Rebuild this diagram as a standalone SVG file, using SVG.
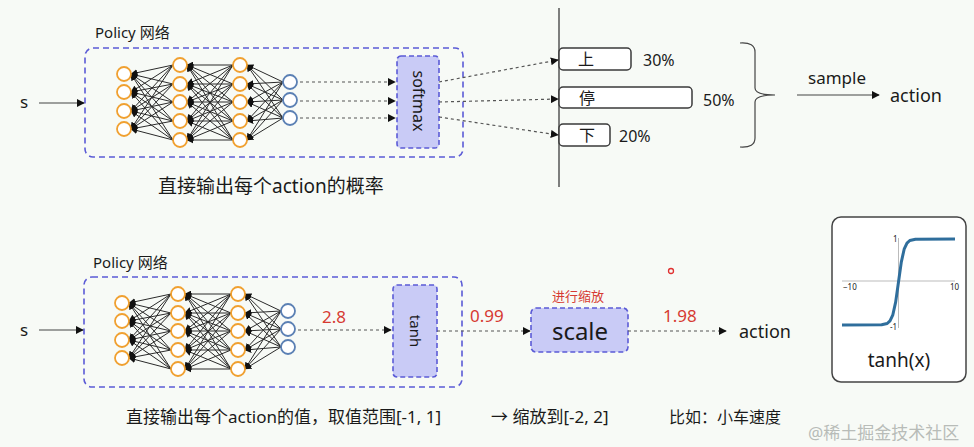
<svg xmlns="http://www.w3.org/2000/svg" xmlns:xlink="http://www.w3.org/1999/xlink" width="974" height="447" viewBox="0 0 974 447">
<style>
text{font-family:"Noto Sans","Noto Sans CJK SC",sans-serif;fill:#1a1a1a}
.frame{fill:none;stroke:#5b5bd6;stroke-width:1.6;stroke-dasharray:6,4}
.fbox{fill:#c9cbf6;stroke:#5b5bd6;stroke-width:1.6;stroke-dasharray:5,3}
.o{fill:#fff;stroke:#f0a030;stroke-width:1.8}
.b{fill:#fff;stroke:#5b80b4;stroke-width:1.8}
.w{stroke:#2a2a2a;stroke-width:1}
.dot{fill:none;stroke:#555;stroke-width:1.2;stroke-dasharray:3,3}
.sol{fill:none;stroke:#444;stroke-width:1.2}
.bar{fill:#fff;stroke:#3a3a3a;stroke-width:1.5}
.red{fill:#d63a32}
</style>
<defs>
<marker id="ah" viewBox="0 0 10 10" refX="9" refY="5" markerWidth="8" markerHeight="8" markerUnits="userSpaceOnUse" orient="auto"><path d="M0,0 L10,5 L0,10 z" fill="#111"/></marker>
<marker id="ahs" viewBox="0 0 10 10" refX="9" refY="5" markerWidth="7" markerHeight="7" markerUnits="userSpaceOnUse" orient="auto"><path d="M0,0 L10,5 L0,10 z" fill="#111"/></marker>
<g id="net">
<g marker-end="url(#ahs)" class="w">
<line x1="173" y1="65" x2="131" y2="74"/><line x1="173" y1="65" x2="131" y2="92"/><line x1="173" y1="65" x2="131" y2="111"/><line x1="173" y1="65" x2="131" y2="129"/>
<line x1="173" y1="84" x2="131" y2="74"/><line x1="173" y1="84" x2="131" y2="92"/><line x1="173" y1="84" x2="131" y2="111"/><line x1="173" y1="84" x2="131" y2="129"/>
<line x1="173" y1="102" x2="131" y2="74"/><line x1="173" y1="102" x2="131" y2="92"/><line x1="173" y1="102" x2="131" y2="111"/><line x1="173" y1="102" x2="131" y2="129"/>
<line x1="173" y1="121" x2="131" y2="74"/><line x1="173" y1="121" x2="131" y2="92"/><line x1="173" y1="121" x2="131" y2="111"/><line x1="173" y1="121" x2="131" y2="129"/>
<line x1="173" y1="140" x2="131" y2="74"/><line x1="173" y1="140" x2="131" y2="92"/><line x1="173" y1="140" x2="131" y2="111"/><line x1="173" y1="140" x2="131" y2="129"/>
<line x1="233" y1="65" x2="187" y2="65"/><line x1="233" y1="65" x2="187" y2="84"/><line x1="233" y1="65" x2="187" y2="102"/><line x1="233" y1="65" x2="187" y2="121"/><line x1="233" y1="65" x2="187" y2="140"/>
<line x1="233" y1="84" x2="187" y2="65"/><line x1="233" y1="84" x2="187" y2="84"/><line x1="233" y1="84" x2="187" y2="102"/><line x1="233" y1="84" x2="187" y2="121"/><line x1="233" y1="84" x2="187" y2="140"/>
<line x1="233" y1="102" x2="187" y2="65"/><line x1="233" y1="102" x2="187" y2="84"/><line x1="233" y1="102" x2="187" y2="102"/><line x1="233" y1="102" x2="187" y2="121"/><line x1="233" y1="102" x2="187" y2="140"/>
<line x1="233" y1="121" x2="187" y2="65"/><line x1="233" y1="121" x2="187" y2="84"/><line x1="233" y1="121" x2="187" y2="102"/><line x1="233" y1="121" x2="187" y2="121"/><line x1="233" y1="121" x2="187" y2="140"/>
<line x1="233" y1="140" x2="187" y2="65"/><line x1="233" y1="140" x2="187" y2="84"/><line x1="233" y1="140" x2="187" y2="102"/><line x1="233" y1="140" x2="187" y2="121"/><line x1="233" y1="140" x2="187" y2="140"/>
<line x1="283" y1="82" x2="247" y2="65"/><line x1="283" y1="82" x2="247" y2="84"/><line x1="283" y1="82" x2="247" y2="102"/><line x1="283" y1="82" x2="247" y2="121"/><line x1="283" y1="82" x2="247" y2="140"/>
<line x1="283" y1="100" x2="247" y2="65"/><line x1="283" y1="100" x2="247" y2="84"/><line x1="283" y1="100" x2="247" y2="102"/><line x1="283" y1="100" x2="247" y2="121"/><line x1="283" y1="100" x2="247" y2="140"/>
<line x1="283" y1="118" x2="247" y2="65"/><line x1="283" y1="118" x2="247" y2="84"/><line x1="283" y1="118" x2="247" y2="102"/><line x1="283" y1="118" x2="247" y2="121"/><line x1="283" y1="118" x2="247" y2="140"/>
</g>
<circle class="o" cx="124" cy="74" r="7"/><circle class="o" cx="124" cy="92" r="7"/><circle class="o" cx="124" cy="111" r="7"/><circle class="o" cx="124" cy="129" r="7"/>
<circle class="o" cx="180" cy="65" r="7"/><circle class="o" cx="180" cy="84" r="7"/><circle class="o" cx="180" cy="102" r="7"/><circle class="o" cx="180" cy="121" r="7"/><circle class="o" cx="180" cy="140" r="7"/>
<circle class="o" cx="240" cy="65" r="7"/><circle class="o" cx="240" cy="84" r="7"/><circle class="o" cx="240" cy="102" r="7"/><circle class="o" cx="240" cy="121" r="7"/><circle class="o" cx="240" cy="140" r="7"/>
<circle class="b" cx="290" cy="82" r="7"/><circle class="b" cx="290" cy="100" r="7"/><circle class="b" cx="290" cy="118" r="7"/>
</g>
</defs>
<rect width="974" height="447" fill="#f7faf6"/>

<!-- top section -->
<g id="top-input"><text x="20" y="108" font-size="17">s</text></g>
<g id="top-policy">
<text x="95" y="38" font-size="15">Policy 网络</text>
<rect class="frame" x="85" y="48" width="378" height="109" rx="8"/>
<use xlink:href="#net"/>
</g>
<g id="softmax"><rect class="fbox" x="397" y="56" width="42" height="92" rx="4"/><text transform="translate(413,101) rotate(90)" font-size="16" text-anchor="middle">softmax</text></g>
<g id="axis"><line x1="559" y1="8" x2="559" y2="187" stroke="#555" stroke-width="1.5"/></g>
<g id="bar-up"><rect class="bar" x="559" y="48" width="72" height="22" rx="4"/><text x="586" y="65" font-size="16" text-anchor="middle">上</text><text x="643" y="66" font-size="16">30%</text></g>
<g id="bar-stop"><rect class="bar" x="559" y="87" width="133" height="21" rx="4"/><text x="587" y="104" font-size="16" text-anchor="middle">停</text><text x="703" y="106" font-size="16">50%</text></g>
<g id="bar-down"><rect class="bar" x="559" y="124" width="51" height="22" rx="4"/><text x="587" y="141" font-size="16" text-anchor="middle">下</text><text x="619" y="142" font-size="16">20%</text></g>
<g id="brace"><path class="sol" stroke-width="1.5" d="M740,43 Q755,42 755,52 L755,88 Q755,95 775,95 Q755,95 755,102 L755,138 Q755,148 740,147"/></g>
<g id="top-action"><text x="808" y="84" font-size="17">sample</text><text x="890" y="102" font-size="18">action</text></g>
<g id="top-caption"><text x="158" y="193" font-size="19">直接输出每个action的概率</text></g>

<!-- bottom section -->
<g id="bot-input"><text x="20" y="336" font-size="17">s</text></g>
<g id="bot-policy">
<text x="93" y="268" font-size="15">Policy 网络</text>
<rect class="frame" x="84" y="277" width="378" height="110" rx="8"/>
<use xlink:href="#net" transform="translate(-2,229)"/>
</g>
<g id="tanh"><rect class="fbox" x="393" y="285" width="44" height="92" rx="4"/><text transform="translate(410,331) rotate(90)" font-size="15" text-anchor="middle">tanh</text></g>
<g id="scale"><text x="578" y="301" font-size="13" text-anchor="middle" class="red">进行缩放</text><rect class="fbox" x="531" y="308" width="97" height="44" rx="5"/><text x="580" y="340" font-size="24" text-anchor="middle">scale</text></g>
<g id="bot-action"><text x="739" y="338" font-size="18">action</text></g>
<g id="values"><text x="322" y="323" font-size="17" class="red">2.8</text><text x="470" y="322" font-size="17" class="red">0.99</text><text x="663" y="322" font-size="17" class="red">1.98</text></g>
<circle cx="671" cy="271" r="2.5" fill="none" stroke="#e03030" stroke-width="1.3"/>
<g id="tanh-plot">
<rect x="832" y="217" width="134" height="165" rx="9" fill="#fff" stroke="#444" stroke-width="1.5"/>
<line x1="842" y1="281" x2="955" y2="281" stroke="#bbb" stroke-width="1"/>
<line x1="898.5" y1="238" x2="898.5" y2="328" stroke="#bbb" stroke-width="1"/>
<path d="M842,325 L881.6,324.8 L887.2,323.5 L890,320.9 L892.85,314.8 L895.7,301.9 L898.5,282 L901.3,262.1 L904.15,249.2 L907,243.1 L909.8,240.5 L915.5,239.2 L955,239" fill="none" stroke="#2f6e9c" stroke-width="3" stroke-linejoin="round"/>
<text x="843" y="290" font-size="8" font-family="Liberation Serif,serif" fill="#555">−10</text>
<text x="950" y="290" font-size="8" font-family="Liberation Serif,serif" fill="#555">10</text>
<text x="893" y="242" font-size="8" font-family="Liberation Serif,serif" fill="#555">1</text>
<text x="890" y="330" font-size="8" font-family="Liberation Serif,serif" fill="#555">-1</text>
<text x="899" y="367" font-size="19" text-anchor="middle">tanh(x)</text>
</g>
<g id="bot-caption">
<text x="126" y="423" font-size="17">直接输出每个action的值，取值范围[-1, 1]</text>
<text x="491" y="423" font-size="17">→ 缩放到[-2, 2]</text>
<text x="669" y="423" font-size="16">比如：小车速度</text>
</g>
<text x="808" y="439" font-size="17" style="fill:#b8bcb8">@稀土掘金技术社区</text>

<g id="connectors">
<line class="sol" x1="39" y1="103" x2="84" y2="103" marker-end="url(#ah)"/>
<line class="dot" x1="300" y1="82" x2="395" y2="82" marker-end="url(#ah)"/>
<line class="dot" x1="300" y1="101" x2="395" y2="101" marker-end="url(#ah)"/>
<line class="dot" x1="300" y1="118" x2="395" y2="118" marker-end="url(#ah)"/>
<line class="dot" x1="439" y1="82" x2="558" y2="60" marker-end="url(#ah)"/>
<line class="dot" x1="439" y1="102" x2="558" y2="99" marker-end="url(#ah)"/>
<line class="dot" x1="439" y1="117" x2="558" y2="135" marker-end="url(#ah)"/>
<line class="sol" x1="797" y1="95" x2="879" y2="95" marker-end="url(#ah)"/>
<line class="sol" x1="39" y1="330" x2="83" y2="330" marker-end="url(#ah)"/>
<line class="dot" x1="298" y1="330" x2="391" y2="330" marker-end="url(#ah)"/>
<line class="dot" x1="437" y1="331" x2="530" y2="331" marker-end="url(#ah)"/>
<line class="dot" x1="628" y1="331" x2="726" y2="331" marker-end="url(#ah)"/>
</g>
</svg>
